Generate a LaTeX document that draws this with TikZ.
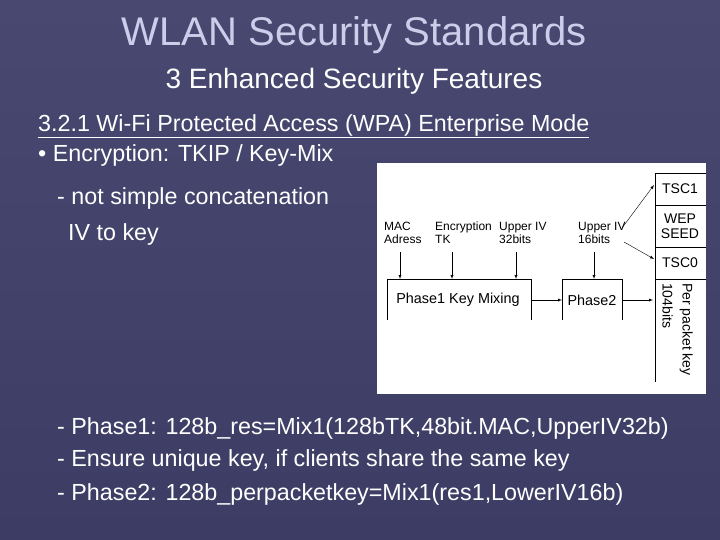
\documentclass[tikz,border=0pt]{standalone}
\usepackage{fontspec}
\setmainfont{Liberation Sans}
\begin{document}
\begin{tikzpicture}[x=1pt,y=-1pt,
  txt/.style={text=white,anchor=west,inner sep=0pt,font=\fontsize{23.3}{26}\selectfont},
  lbl/.style={anchor=north west,inner sep=0pt,align=left,font=\fontsize{12}{13}\selectfont},
  arr/.style={-latex,thin},
  ln/.style={thin}]
\shade[top color={rgb,255:red,72;green,72;blue,112},bottom color={rgb,255:red,60;green,60;blue,100}] (0,0) rectangle (720,540);
\useasboundingbox (0,0) rectangle (720,540);
\node[text={rgb,255:red,205;green,205;blue,235},font=\fontsize{40}{44}\selectfont] (title) at (354,35) {WLAN Security Standards};
\node[text=white,font=\fontsize{28}{32}\selectfont] (sub) at (354,81) {3 Enhanced Security Features};
\node[txt] (t1) at (38,126) {\underline{3.2.1 Wi-Fi Protected Access (WPA) Enterprise Mode}};
\node[txt] (t2) at (38,155) {\textbullet\ Encryption: TKIP / Key-Mix};
\node[txt] (t3) at (57,198) {- not simple concatenation};
\node[txt] (t4) at (68,234) {IV to key};
\node[txt] (t5) at (57,428) {- Phase1: 128b\_res=Mix1(128bTK,48bit.MAC,UpperIV32b)};
\node[txt] (t6) at (57,460) {- Ensure unique key, if clients share the same key};
\node[txt] (t7) at (57,494) {- Phase2: 128b\_perpacketkey=Mix1(res1,LowerIV16b)};
% diagram
\fill[white] (377,163) rectangle (706,394);
\draw[ln] (387,320) -- (387,279) -- (531,279) -- (531,320);
\draw[ln] (562,320) -- (562,279) -- (622,279) -- (622,320);
\node[font=\fontsize{14.4}{16}\selectfont] (p1) at (458,300) {Phase1 Key Mixing};
\node[font=\fontsize{14.4}{16}\selectfont] (p2) at (592,300) {Phase2};
\draw[ln] (655,173) -- (655,382);
\draw[ln] (655,173) -- (706,173) (655,205) -- (706,205) (655,247) -- (706,247) (655,279) -- (706,279);
\node[font=\fontsize{14}{14}\selectfont] (tsc1) at (680,189) {TSC1};
\node[font=\fontsize{14}{15}\selectfont,align=center] (seed) at (680,226) {WEP\\SEED};
\node[font=\fontsize{14}{14}\selectfont] (tsc0) at (680,263) {TSC0};
\node[rotate=-90,anchor=north west,inner sep=0pt,align=left,font=\fontsize{14}{20}\selectfont] (pk) at (693,283) {Per packet key\\104bits};
\node[lbl] (mac) at (384,222) {MAC\\Adress};
\node[lbl] (enc) at (435,222) {Encryption\\TK};
\node[lbl] (u32) at (499,222) {Upper IV\\32bits};
\node[lbl] (u16) at (578,222) {Upper IV\\16bits};
\coordinate (a1) at (400,279); \coordinate (a2) at (452,279);
\coordinate (a3) at (516,279); \coordinate (a4) at (594,279);
\draw[arr] (400,252) -- (a1);
\draw[arr] (452,252) -- (a2);
\draw[arr] (516,252) -- (a3);
\draw[arr] (594,252) -- (a4);
\coordinate (c1) at (531,300); \coordinate (c2) at (562,300);
\coordinate (c3) at (622,300); \coordinate (c4) at (653,300);
\draw[arr] (c1) -- (c2);
\draw[arr] (c3) -- (c4);
\draw[arr] (622,228) -- (654,185);
\draw[arr] (624,242) -- (654,259);
\end{tikzpicture}
\end{document}
